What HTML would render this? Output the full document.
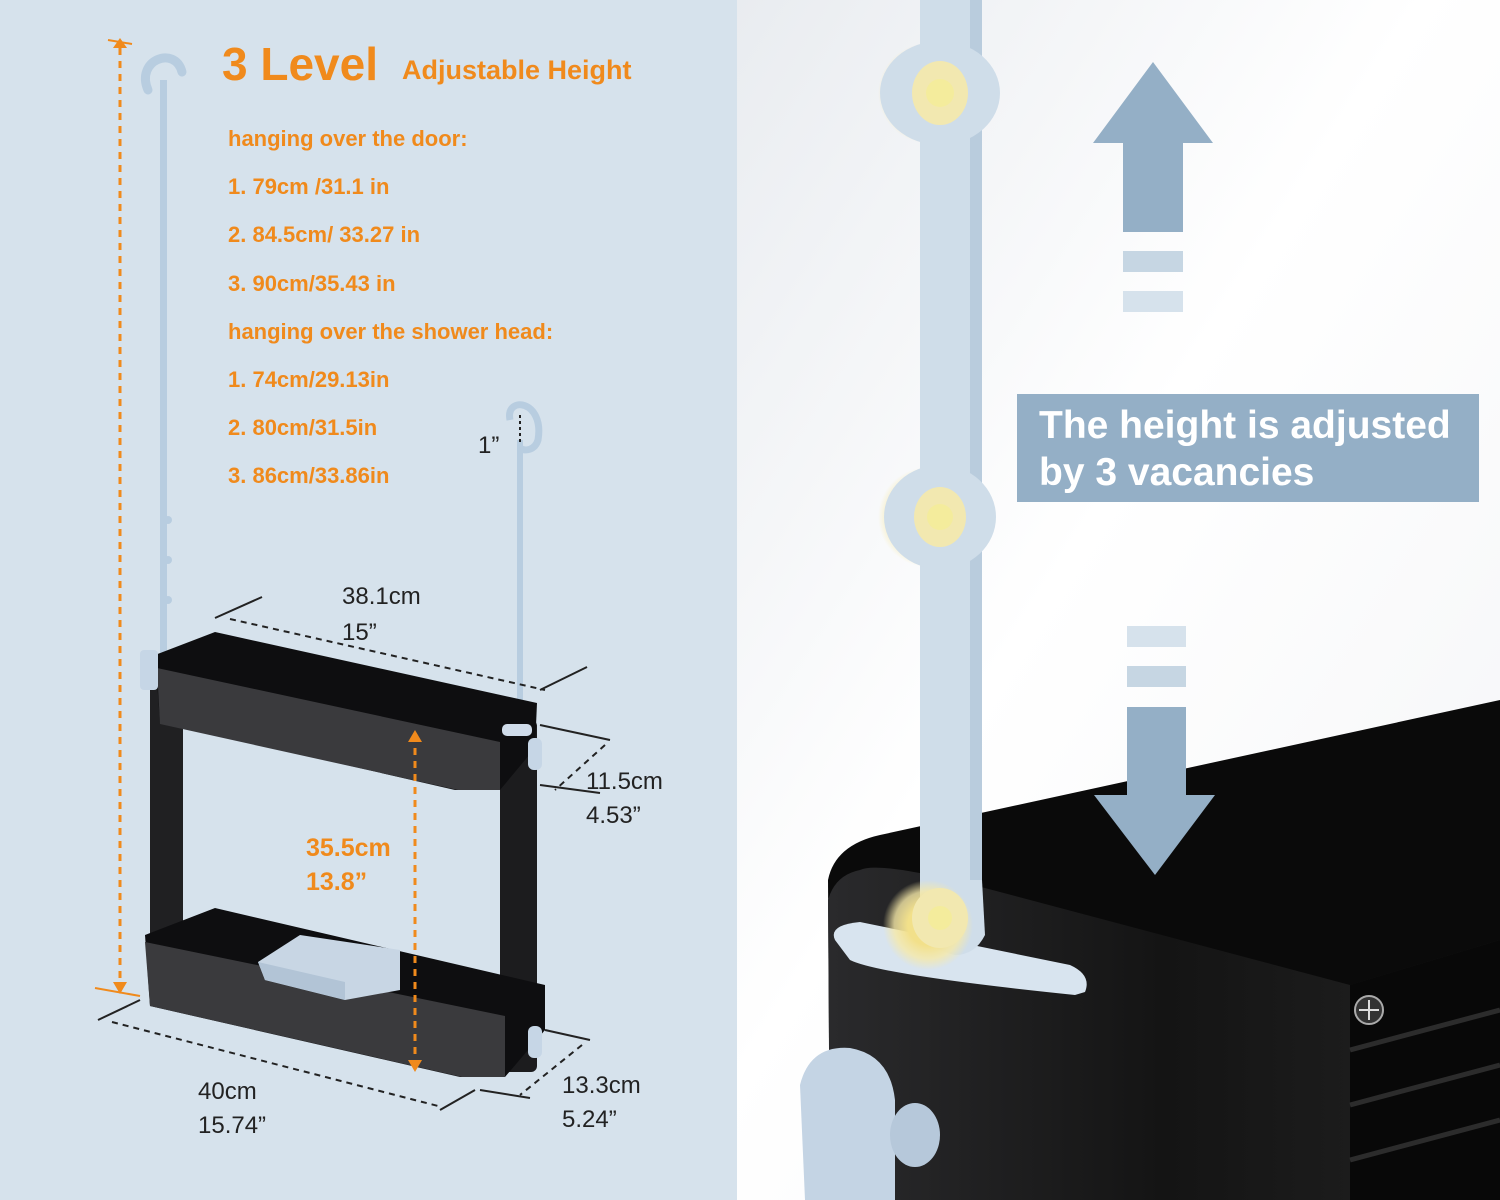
<!DOCTYPE html>
<html><head><meta charset="utf-8"><style>
html,body{margin:0;padding:0;}
body{width:1500px;height:1200px;overflow:hidden;background:#fff;font-family:"Liberation Sans",sans-serif;}
svg{display:block}
</style></head><body>
<svg width="1500" height="1200" viewBox="0 0 1500 1200" xmlns="http://www.w3.org/2000/svg">
<defs>
<linearGradient id="rbg" x1="0" y1="0" x2="1" y2="1">
<stop offset="0" stop-color="#e9ecf0"/><stop offset="0.45" stop-color="#ffffff"/><stop offset="1" stop-color="#f3f4f6"/>
</linearGradient>
<radialGradient id="ring" cx="0.5" cy="0.5" r="0.5">
<stop offset="0.45" stop-color="#f2e08a"/><stop offset="0.75" stop-color="#f6e9a8" stop-opacity="0.8"/><stop offset="1" stop-color="#f6e9a8" stop-opacity="0"/>
</radialGradient>
<linearGradient id="face" x1="0" y1="0" x2="1" y2="0">
<stop offset="0" stop-color="#2a2a2c"/><stop offset="0.5" stop-color="#141414"/><stop offset="1" stop-color="#222"/>
</linearGradient>
</defs>
<rect x="0" y="0" width="737" height="1200" fill="#d6e2ec"/>
<rect x="737" y="0" width="763" height="1200" fill="url(#rbg)"/>

<text x="222" y="80" font-size="46" font-weight="bold" fill="#f08a1c">3 Level</text>
<text x="402" y="79" font-size="27" font-weight="bold" fill="#f08a1c">Adjustable Height</text>
<g font-size="22" fill="#f08a1c" font-weight="bold">
<text x="228" y="146">hanging over the door:</text>
<text x="228" y="194">1. 79cm /31.1 in</text>
<text x="228" y="242">2. 84.5cm/ 33.27 in</text>
<text x="228" y="291">3. 90cm/35.43 in</text>
<text x="228" y="339">hanging over the shower head:</text>
<text x="228" y="387">1.  74cm/29.13in</text>
<text x="228" y="435">2.  80cm/31.5in</text>
<text x="228" y="483">3.  86cm/33.86in</text>
</g>

<line x1="108" y1="40" x2="132" y2="44" stroke="#f08a1c" stroke-width="2"/>
<line x1="120" y1="48" x2="120" y2="985" stroke="#f08a1c" stroke-width="3" stroke-dasharray="7 6"/>
<polygon points="113,48 127,48 120,38" fill="#f08a1c"/>
<polygon points="113,982 127,982 120,994" fill="#f08a1c"/>
<line x1="95" y1="988" x2="140" y2="996" stroke="#f08a1c" stroke-width="2"/>

<path d="M148,90 C135,60 175,45 182,72" fill="none" stroke="#b8cde0" stroke-width="9" stroke-linecap="round"/>
<rect x="160" y="80" width="7" height="580" fill="#b8cde0"/>
<circle cx="168" cy="520" r="4" fill="#b8cde0"/><circle cx="168" cy="560" r="4" fill="#b8cde0"/><circle cx="168" cy="600" r="4" fill="#b8cde0"/>
<path d="M510,420 C505,395 545,400 538,440 C535,450 525,452 520,448" fill="none" stroke="#b8cde0" stroke-width="7"/>
<rect x="517" y="440" width="6" height="300" fill="#b8cde0"/>
<line x1="520" y1="415" x2="520" y2="445" stroke="#222" stroke-width="2" stroke-dasharray="3 3"/>
<text x="478" y="453" font-size="24" fill="#222">1”</text>

<rect x="150" y="660" width="33" height="300" fill="#202022"/>
<rect x="500" y="720" width="37" height="352" rx="6" fill="#1c1c1e"/>
<polygon points="155,655 215,632 537,703 535,748 500,790 455,790 160,722" fill="#0e0e10"/>
<polygon points="157,668 500,742 500,790 458,790 160,724" fill="#3a3a3d"/>
<polygon points="145,935 215,908 545,985 545,1030 505,1077 460,1077 150,1006" fill="#0e0e10"/>
<polygon points="145,942 505,1016 505,1077 462,1077 150,1006" fill="#3a3a3d"/>
<polygon points="258,962 300,935 400,950 400,990 345,1000 265,980" fill="#c8d6e4"/>
<polygon points="258,962 345,982 345,1000 265,980" fill="#b2c4d6"/>
<rect x="140" y="650" width="18" height="40" rx="4" fill="#c6d6e6"/>
<rect x="502" y="724" width="30" height="12" rx="5" fill="#d0dcea"/>
<rect x="528" y="738" width="14" height="32" rx="6" fill="#c6d6e6"/>
<rect x="528" y="1026" width="14" height="32" rx="6" fill="#c6d6e6"/>

<line x1="415" y1="735" x2="415" y2="1065" stroke="#f08a1c" stroke-width="3" stroke-dasharray="7 6"/>
<polygon points="408,742 422,742 415,730" fill="#f08a1c"/>
<polygon points="408,1060 422,1060 415,1072" fill="#f08a1c"/>
<text x="306" y="856" font-size="25" font-weight="bold" fill="#f08a1c">35.5cm</text>
<text x="306" y="890" font-size="25" font-weight="bold" fill="#f08a1c">13.8”</text>

<g stroke="#222" stroke-width="2" fill="none">
<line x1="215" y1="618" x2="262" y2="597"/>
<line x1="540" y1="690" x2="587" y2="667"/>
<line x1="230" y1="619" x2="545" y2="690" stroke-dasharray="6 5"/>
<line x1="540" y1="725" x2="610" y2="740"/>
<line x1="540" y1="785" x2="600" y2="793"/>
<line x1="605" y1="745" x2="555" y2="790" stroke-dasharray="6 5"/>
<line x1="98" y1="1020" x2="140" y2="1000"/>
<line x1="440" y1="1110" x2="475" y2="1090"/>
<line x1="112" y1="1022" x2="438" y2="1106" stroke-dasharray="6 5"/>
<line x1="545" y1="1030" x2="590" y2="1040"/>
<line x1="480" y1="1090" x2="530" y2="1098"/>
<line x1="582" y1="1045" x2="520" y2="1095" stroke-dasharray="6 5"/>
</g>
<g font-size="24" fill="#222">
<text x="342" y="604">38.1cm</text><text x="342" y="640">15”</text>
<text x="586" y="789">11.5cm</text><text x="586" y="823">4.53”</text>
<text x="198" y="1099">40cm</text><text x="198" y="1133">15.74”</text>
<text x="562" y="1093">13.3cm</text><text x="562" y="1127">5.24”</text>
</g>

<path d="M830,1200 L828,880 Q835,845 880,835 L1500,700 L1500,1200 Z" fill="#0a0a0a"/>
<path d="M860,870 Q880,860 1000,892 L1350,985 L1500,940 L1500,1200 L830,1200 L828,900 Q835,875 860,870 Z" fill="url(#face)"/>
<path d="M1350,985 L1500,940 L1500,1200 L1350,1200 Z" fill="#080808"/>
<g stroke="#2c2c2c" stroke-width="5"><line x1="1350" y1="1050" x2="1500" y2="1010"/><line x1="1350" y1="1105" x2="1500" y2="1065"/><line x1="1350" y1="1160" x2="1500" y2="1120"/></g>
<circle cx="1369" cy="1010" r="14" fill="#333" stroke="#aaa" stroke-width="2"/>
<path d="M1369,1000 V1020 M1359,1010 H1379" stroke="#ddd" stroke-width="2"/>
<path d="M835,940 Q828,925 860,922 L1070,965 Q1092,975 1085,992 L1075,995 Q880,975 850,960 Z" fill="#d8e4ef"/>
<path d="M805,1200 L800,1085 Q810,1045 850,1048 Q890,1055 895,1100 L895,1200 Z" fill="#c4d4e4"/>
<ellipse cx="915" cy="1135" rx="25" ry="32" fill="#b6c8da"/>

<rect x="920" y="0" width="62" height="900" fill="#cfdde9"/>
<rect x="970" y="0" width="12" height="900" fill="#b9ccdd"/>
<path d="M920,880 L982,880 L985,935 Q975,955 955,955 Q930,950 920,930 Z" fill="#cfdde9"/>
<g>
<circle cx="928" cy="93" r="50" fill="url(#ring)"/>
<ellipse cx="940" cy="93" rx="60" ry="52" fill="#cfdde9"/>
<ellipse cx="940" cy="93" rx="28" ry="32" fill="#f2e8b0"/>
<circle cx="940" cy="93" r="14" fill="#f4ec9c"/>
<circle cx="928" cy="517" r="50" fill="url(#ring)"/>
<ellipse cx="940" cy="517" rx="56" ry="52" fill="#cfdde9"/>
<ellipse cx="940" cy="517" rx="26" ry="30" fill="#f2e8b0"/>
<circle cx="940" cy="517" r="13" fill="#f4ec9c"/>
<circle cx="928" cy="925" r="45" fill="url(#ring)"/>
<ellipse cx="940" cy="918" rx="28" ry="30" fill="#f2e8b0"/>
<circle cx="940" cy="918" r="12" fill="#f4ec9c"/>
</g>

<polygon points="1153,62 1213,143 1183,143 1183,232 1123,232 1123,143 1093,143" fill="#94afc6"/>
<rect x="1123" y="251" width="60" height="21" fill="#c6d6e3"/>
<rect x="1123" y="291" width="60" height="21" fill="#d6e2ec"/>
<rect x="1127" y="626" width="59" height="21" fill="#d6e2ec"/>
<rect x="1127" y="666" width="59" height="21" fill="#c6d6e3"/>
<polygon points="1127,707 1186,707 1186,795 1215,795 1155,875 1094,795 1127,795" fill="#94afc6"/>

<rect x="1017" y="394" width="462" height="108" fill="#94afc6"/>
<text x="1039" y="438" font-size="39" font-weight="bold" fill="#fff">The height is adjusted</text>
<text x="1039" y="485" font-size="39" font-weight="bold" fill="#fff">by 3 vacancies</text>
</svg>
</body></html>
